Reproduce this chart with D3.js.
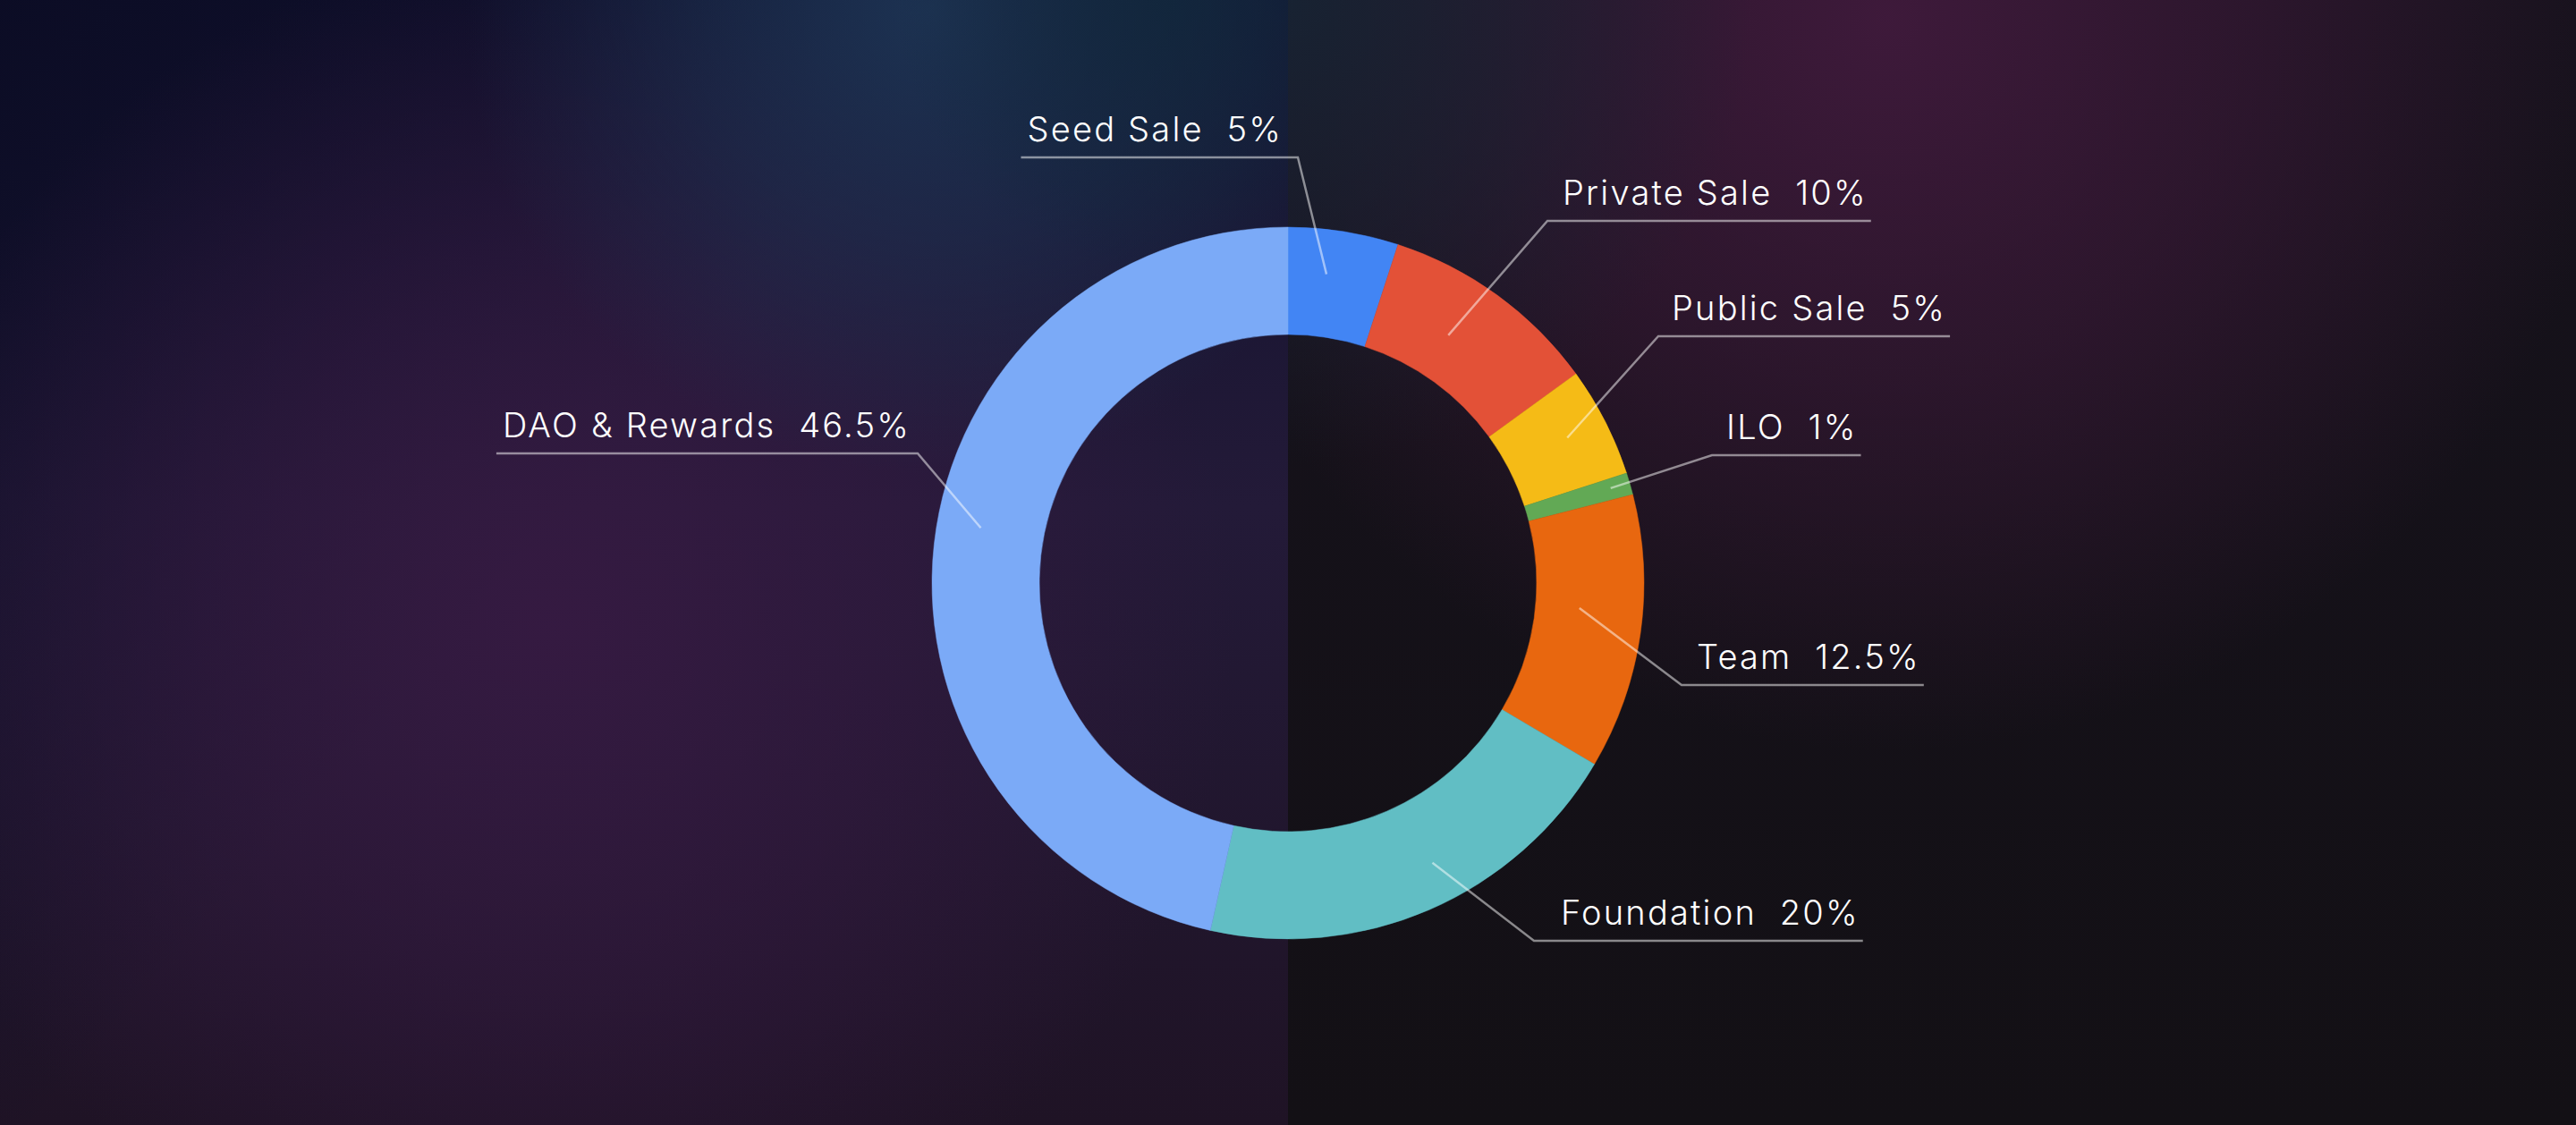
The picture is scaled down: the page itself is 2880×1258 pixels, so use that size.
<!DOCTYPE html>
<html>
<head>
<meta charset="utf-8">
<script src="https://cdn.jsdelivr.net/npm/d3@7"></script>
<style>
  html, body { margin: 0; padding: 0; background: #141017; overflow: hidden; }
  svg { display: block; }
</style>
</head>
<body>
<svg id="chart" width="2880" height="1258"></svg>
<script>
// ---- data ----
const categories = ["Seed Sale", "Private Sale", "Public Sale", "ILO", "Team", "Foundation", "DAO & Rewards"];
const values = [5, 10, 5, 1, 12.5, 20, 46.5];
const colors = ["#4285f4", "#e35137", "#f5bb16", "#62a955", "#e8670f", "#61bec4", "#7baaf7"];

// ---- layout for leader labels (elbow offset from pie centre, endpoint polar nudge, text gap) ----
const labelLayout = [
  { side: "left",  ex: 11,   ey: -476, nudge: -1.9, r: 348, gap: 17 },
  { side: "right", ex: 290,  ey: -405, nudge: -3.1, r: 330, gap: 17 },
  { side: "right", ex: 414,  ey: -276, nudge: -0.5, r: 352, gap: 15 },
  { side: "right", ex: 474,  ey: -143, nudge: -0.2, r: 376, gap: 16 },
  { side: "right", ex: 440,  ey: 114,  nudge: -3.2, r: 327, gap: 17 },
  { side: "right", ex: 275,  ey: 400,  nudge: -3.9, r: 352, gap: 30 },
  { side: "left",  ex: -414, ey: -145, nudge: 3.9,  r: 349, gap: 8 }
];

const W = 2880, H = 1258;
const cx = 1440, cy = 652;
const outerR = 398, innerR = 278;

const svg = d3.select("#chart");
const defs = svg.append("defs");

function radial(id, cxp, cyp, r, color, op) {
  const g = defs.append("radialGradient").attr("id", id)
    .attr("gradientUnits", "userSpaceOnUse")
    .attr("cx", cxp).attr("cy", cyp).attr("r", r);
  g.append("stop").attr("offset", 0).attr("stop-color", color).attr("stop-opacity", op);
  g.append("stop").attr("offset", 0.5).attr("stop-color", color).attr("stop-opacity", op * 0.55);
  g.append("stop").attr("offset", 1).attr("stop-color", color).attr("stop-opacity", 0);
}
function linear(id, x1, y1, x2, y2, stops) {
  const g = defs.append("linearGradient").attr("id", id)
    .attr("gradientUnits", "userSpaceOnUse")
    .attr("x1", x1).attr("y1", y1).attr("x2", x2).attr("y2", y2);
  stops.forEach(s => g.append("stop").attr("offset", s[0]).attr("stop-color", s[1]).attr("stop-opacity", s[2] == null ? 1 : s[2]));
}

defs.append("clipPath").attr("id", "clipL").append("rect").attr("x", 0).attr("y", 0).attr("width", W / 2).attr("height", H);
defs.append("clipPath").attr("id", "clipR").append("rect").attr("x", W / 2).attr("y", 0).attr("width", W / 2).attr("height", H);

// left half background
linear("lBase", 0, 0, 0, H, [[0, "#11112e"], [0.45, "#231a38"], [1, "#1f1325"]]);
linear("lCorner", 0, 0, 650, 560, [[0, "#0b0c24", 0.9], [1, "#0b0c24", 0]]);
radial("lPurple", 620, 700, 760, "#361a42", 0.95);
radial("lBlue", 1040, 10, 520, "#1e3656", 0.9);
radial("lBlue2", 1300, 0, 300, "#10283a", 0.7);

// right half background
linear("rBase", 0, 0, 0, H, [[0, "#16121c"], [1, "#131015"]]);
radial("rPurple", 2110, 20, 820, "#401a3c", 0.95);
radial("rBlue", 1440, 0, 520, "#172434", 0.9);

const bgL = svg.append("g").attr("clip-path", "url(#clipL)");
["lBase", "lCorner", "lPurple", "lBlue", "lBlue2"].forEach(id =>
  bgL.append("rect").attr("x", 0).attr("y", 0).attr("width", W / 2).attr("height", H).attr("fill", `url(#${id})`));
const bgR = svg.append("g").attr("clip-path", "url(#clipR)");
["rBase", "rPurple", "rBlue"].forEach(id =>
  bgR.append("rect").attr("x", W / 2).attr("y", 0).attr("width", W / 2).attr("height", H).attr("fill", `url(#${id})`));

// ---- donut ----
const data = categories.map((c, i) => ({ name: c, value: values[i], color: colors[i], layout: labelLayout[i] }));
const pie = d3.pie().sort(null).value(d => d.value).startAngle(0).endAngle(2 * Math.PI);
const arc = d3.arc().innerRadius(innerR).outerRadius(outerR);
const arcs = pie(data);

const g = svg.append("g").attr("transform", `translate(${cx},${cy})`);
g.selectAll("path.slice").data(arcs).join("path")
  .attr("class", "slice")
  .attr("d", arc)
  .attr("fill", d => d.data.color)
  .attr("stroke", d => d.data.color)
  .attr("stroke-width", 0.5);

// ---- labels ----
const lineColor = "rgba(255,255,255,0.5)";
const fontSize = 38;
const lg = g.append("g").attr("class", "labels");

arcs.forEach(d => {
  const L = d.data.layout;
  const mid = (d.startAngle + d.endAngle) / 2 + L.nudge * Math.PI / 180;
  const px = Math.sin(mid) * L.r, py = -Math.cos(mid) * L.r;
  const txt = `${d.data.name}  ${d.data.value}%`;
  const t = lg.append("text")
    .attr("xml:space", "preserve")
    .style("white-space", "pre")
    .attr("font-family", "Inter, 'Noto Sans', sans-serif")
    .attr("font-weight", 260)
    .attr("font-size", fontSize)
    .attr("letter-spacing", 2.2)
    .attr("fill", "#ffffff")
    .attr("y", L.ey - 18)
    .text(txt);
  if (L.side === "right") {
    t.attr("x", L.ex + L.gap).attr("text-anchor", "start");
    const w = t.node().getComputedTextLength();
    const x2 = L.ex + L.gap + w + 4;
    lg.append("polyline")
      .attr("points", [[px, py], [L.ex, L.ey], [x2, L.ey]].map(p => p.join(",")).join(" "))
      .attr("fill", "none").attr("stroke", lineColor).attr("stroke-width", 2.5);
  } else {
    t.attr("x", L.ex - L.gap).attr("text-anchor", "end");
    const w = t.node().getComputedTextLength();
    const x1 = L.ex - L.gap - w - 7;
    lg.append("polyline")
      .attr("points", [[px, py], [L.ex, L.ey], [x1, L.ey]].map(p => p.join(",")).join(" "))
      .attr("fill", "none").attr("stroke", lineColor).attr("stroke-width", 2.5);
  }
});
</script>
</body>
</html>
